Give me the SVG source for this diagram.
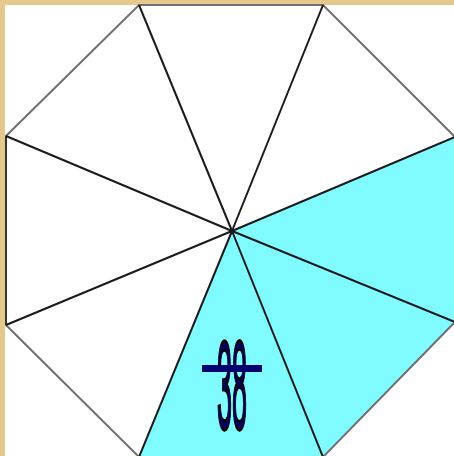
<svg xmlns="http://www.w3.org/2000/svg" width="454" height="456" viewBox="0 0 454 456">
  <style>
    .spoke { stroke: #1a1a1a; stroke-width: 2; fill: none; }
    .sector { fill: #80fbff; stroke: none; }
    .outline { fill: none; stroke: #707070; stroke-width: 2; }
  </style>
  <rect x="0" y="0" width="454" height="456" fill="#ffffff"/>
  <rect x="0" y="0" width="454" height="5" fill="#e6c78c"/>
  <rect x="0" y="0" width="5" height="456" fill="#e6c78c"/>
  <g id="sectors">
    <polygon class="sector" points="232,231 455,137 455,322"/>
    <polygon class="sector" points="232,231 455,322 323,457"/>
    <polygon class="sector" points="232,231 323,457 139,457"/>
  </g>
  <g id="octagon">
    <polygon class="outline" points="139,5 323,5 455,137 455,322 323,457 139,457 6,325 6,136"/>
    <line x1="6" y1="136" x2="6" y2="325" stroke="#333" stroke-width="2"/>
  </g>
  <g id="connectors">
    <line class="spoke" x1="232" y1="231" x2="139" y2="5"/>
    <line class="spoke" x1="232" y1="231" x2="323" y2="5"/>
    <line class="spoke" x1="232" y1="231" x2="455" y2="137"/>
    <line class="spoke" x1="232" y1="231" x2="455" y2="322"/>
    <line class="spoke" x1="232" y1="231" x2="323" y2="457"/>
    <line class="spoke" x1="232" y1="231" x2="139" y2="457"/>
    <line class="spoke" x1="232" y1="231" x2="6" y2="325"/>
    <line class="spoke" x1="232" y1="231" x2="6" y2="136"/>
  </g>
  <g id="label">
    <text x="217" y="429" textLength="30" lengthAdjust="spacingAndGlyphs" font-family="Liberation Sans, Arial, sans-serif" font-size="126" fill="#000066" stroke="#000000" stroke-width="3.5" vector-effect="non-scaling-stroke">38</text>
    <rect x="202" y="365" width="60" height="7" fill="#000070"/>
  </g>
</svg>
